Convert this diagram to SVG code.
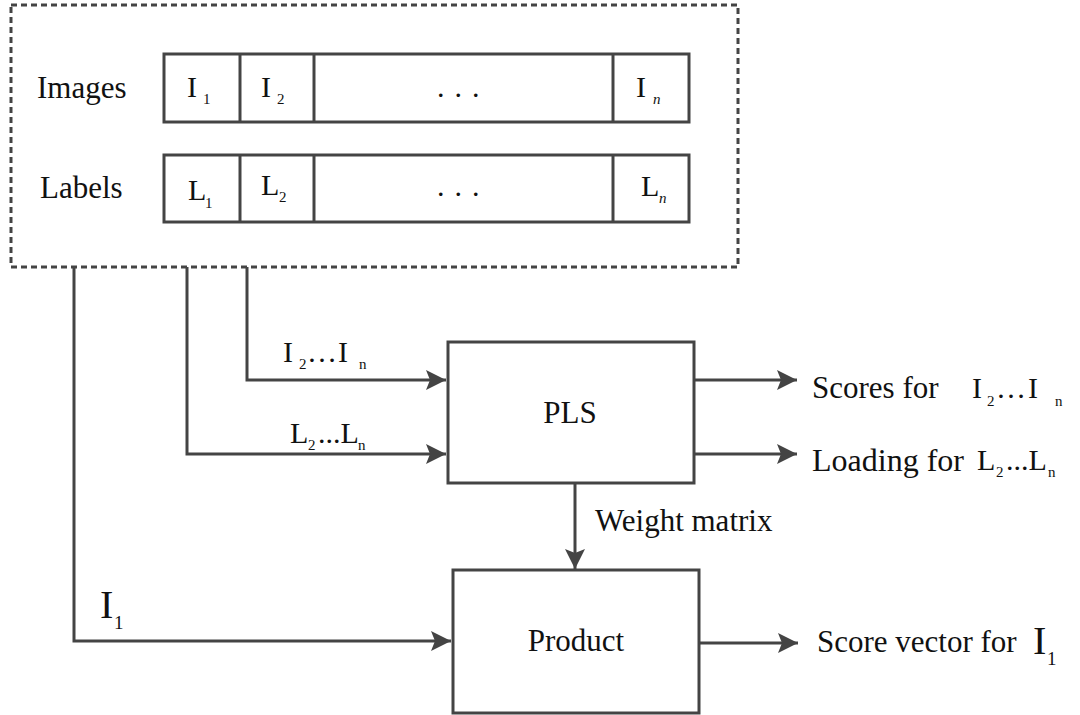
<svg xmlns="http://www.w3.org/2000/svg" width="1080" height="715" viewBox="0 0 1080 715">
  <style>
    .box { fill: #fff; stroke: #444; stroke-width: 3; }
    .cell { fill: none; stroke: #444; stroke-width: 3; }
    .wire { fill: none; stroke: #444; stroke-width: 3; }
    .dash { fill: none; stroke: #444; stroke-width: 3; stroke-dasharray: 6 4; }
    text { font-family: "Liberation Serif", "Times New Roman", serif; fill: #111; }
    .t { font-size: 31px; }
    .c { font-size: 30px; }
    .s { font-size: 15px; }
    .big { font-size: 40px; }
    .bs { font-size: 19px; }
  </style>
  <defs>
    <marker id="arr" viewBox="0 0 20 20" refX="20" refY="10" markerWidth="20" markerHeight="20" orient="auto" markerUnits="userSpaceOnUse">
      <path d="M0,0 L20,10 L0,20 L4,10 Z" fill="#444"/>
    </marker>
  </defs>

  <!-- data container -->
  <g id="dataset">
    <rect class="dash" x="11" y="5" width="727" height="262"/>
    <text class="t" x="37" y="98">Images</text>
    <text class="t" x="40" y="198">Labels</text>
  </g>

  <g id="images-row">
    <rect class="cell" x="164" y="54" width="525" height="68"/>
    <line class="cell" x1="240" y1="54" x2="240" y2="122"/>
    <line class="cell" x1="314" y1="54" x2="314" y2="122"/>
    <line class="cell" x1="613" y1="54" x2="613" y2="122"/>
    <text class="c" x="187" y="97">I</text><text class="s" x="203" y="104">1</text>
    <text class="c" x="261" y="97">I</text><text class="s" x="277" y="104">2</text>
    <text class="c" x="437" y="97" letter-spacing="10">...</text>
    <text class="c" x="636" y="97">I</text><text class="s" x="653" y="104" font-style="italic">n</text>
  </g>

  <g id="labels-row">
    <rect class="cell" x="164" y="155" width="525" height="67"/>
    <line class="cell" x1="240" y1="155" x2="240" y2="222"/>
    <line class="cell" x1="314" y1="155" x2="314" y2="222"/>
    <line class="cell" x1="613" y1="155" x2="613" y2="222"/>
    <text class="c" x="188" y="200">L</text><text class="s" x="205" y="208">1</text>
    <text class="c" x="261" y="195">L</text><text class="s" x="279" y="202">2</text>
    <text class="c" x="437" y="196" letter-spacing="10">...</text>
    <text class="c" x="641" y="196">L</text><text class="s" x="659" y="203" font-style="italic">n</text>
  </g>

  <!-- processing blocks -->
  <g id="pls">
    <rect class="box" x="448" y="342" width="246" height="141"/>
    <text class="t" x="570" y="423" text-anchor="middle">PLS</text>
  </g>

  <g id="product">
    <rect class="box" x="453" y="570" width="246" height="143"/>
    <text class="t" x="576" y="651" text-anchor="middle">Product</text>
  </g>

  <!-- connectors -->
  <g id="connectors">
    <polyline class="wire" points="247,267 247,380 446,380" marker-end="url(#arr)"/>
    <polyline class="wire" points="187,267 187,454 446,454" marker-end="url(#arr)"/>
    <polyline class="wire" points="74,267 74,641 451,641" marker-end="url(#arr)"/>
    <line class="wire" x1="694" y1="380" x2="797" y2="380" marker-end="url(#arr)"/>
    <line class="wire" x1="694" y1="454" x2="797" y2="454" marker-end="url(#arr)"/>
    <line class="wire" x1="575" y1="483" x2="575" y2="569" marker-end="url(#arr)"/>
    <line class="wire" x1="699" y1="643" x2="798" y2="643" marker-end="url(#arr)"/>

    <text class="c" x="283" y="362">I</text><text class="s" x="299" y="369">2</text>
    <text class="c" x="307" y="362">…</text><text class="c" x="338" y="362">I</text><text class="s" x="359" y="369">n</text>

    <text class="c" x="290" y="443">L</text><text class="s" x="308" y="450">2</text>
    <text class="c" x="318" y="443">...L</text><text class="s" x="358" y="450">n</text>

    <text class="t" x="595" y="531">Weight matrix</text>
    <text class="big" x="100" y="618">I</text><text class="bs" x="114" y="629">1</text>
  </g>

  <!-- outputs -->
  <g id="outputs">
    <text class="t" x="812" y="398">Scores for</text>
    <text class="c" x="972" y="398">I</text><text class="s" x="987" y="406">2</text>
    <text class="c" x="996" y="398">…</text><text class="c" x="1028" y="398">I</text><text class="s" x="1055" y="406">n</text>

    <text class="t" x="812" y="471" style="font-size:32px">Loading for</text>
    <text class="c" x="977" y="470">L</text><text class="s" x="996" y="477">2</text>
    <text class="c" x="1006" y="470">...L</text><text class="s" x="1048" y="477">n</text>

    <text class="t" x="817" y="652">Score vector for</text>
    <text class="big" x="1033" y="654">I</text><text class="bs" x="1047" y="665">1</text>
  </g>
</svg>
